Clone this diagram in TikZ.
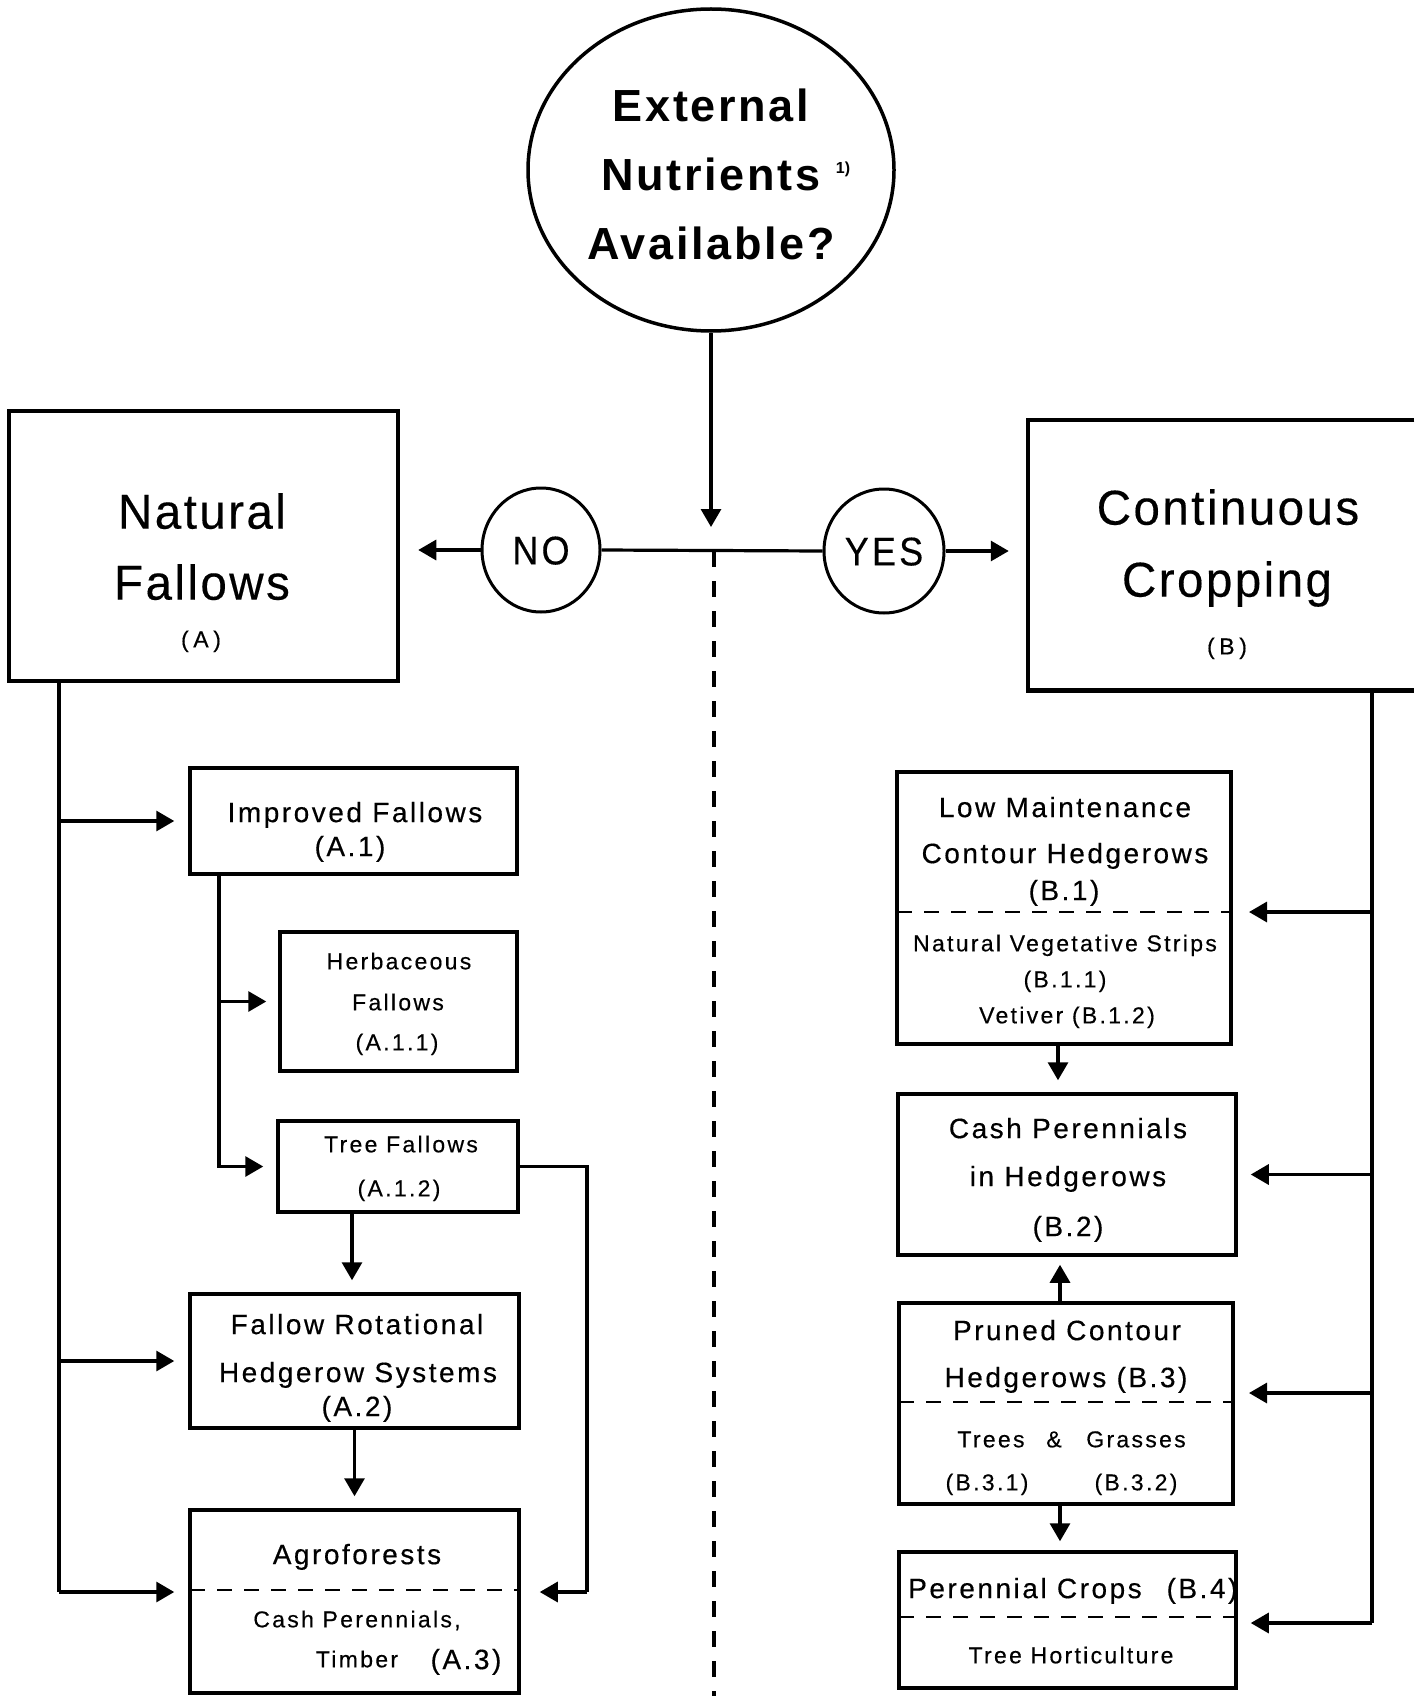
\documentclass[tikz,border=0pt]{standalone}
\usepackage{fontspec}
\setmainfont{Liberation Sans}
\usetikzlibrary{arrows.meta,shapes.geometric}
\newfontfamily\fBig[LetterSpace=5,FakeStretch=0.97,FakeBold=0.3]{Liberation Sans}
\newfontfamily\fMed[LetterSpace=9,FakeBold=0.4]{Liberation Sans}
\newfontfamily\fSml[LetterSpace=10,FakeBold=0.4]{Liberation Sans}
\newfontfamily\fPar[LetterSpace=20,FakeBold=0.4]{Liberation Sans}
\newfontfamily\fTop[LetterSpace=6]{Liberation Sans}
\newfontfamily\fYN[LetterSpace=8,FakeStretch=0.9,FakeBold=0.3]{Liberation Sans}
\begin{document}
\begin{tikzpicture}[x=1pt,y=-1pt,
  box/.style={draw, line width=3.5pt, inner sep=0pt},
  bigbox/.style={line width=4.5pt, inner sep=0pt},
  conn/.style={line width=3.2pt},
  arr/.style={conn, -{Triangle[length=18pt,width=20pt]}},
  sepline/.style={line width=2.2pt, dash pattern=on 15pt off 12pt},
  midline/.style={line width=3.5pt, dash pattern=on 16pt off 14pt},
  tbig/.style={font={\fBig\fontsize{49}{52}\selectfont}, inner sep=0pt, text height=35.3pt, text depth=0pt},
  tmed/.style={font={\fMed\fontsize{28}{31}\selectfont}, inner sep=0pt, text height=20.2pt, text depth=0pt},
  tsml/.style={font={\fSml\fontsize{23}{26}\selectfont}, inner sep=0pt, text height=16.6pt, text depth=0pt},
  tpar/.style={font={\fPar\fontsize{23}{26}\selectfont}, inner sep=0pt, text height=16.6pt, text depth=0pt},
  ttop/.style={font={\fTop\bfseries\fontsize{45}{48}\selectfont}, inner sep=0pt, text height=32.4pt, text depth=0pt},
  tyn/.style={font={\fYN\fontsize{40}{42}\selectfont}, text height=28.8pt, text depth=0pt}
]
\useasboundingbox (0,0) rectangle (1416,1696);
\fill[white] (0,0) rectangle (1416,1696);

% question ellipse
\node[ellipse, draw, line width=3.5pt, minimum width=366pt, minimum height=322pt, inner sep=0pt] (Q) at (711,170) {};
\node[ttop] (q1) at (711,105) {External};
\node[ttop] (q2) at (711,174) {Nutrients};
\node[font={\fontsize{16}{18}\selectfont\bfseries}, inner sep=0pt] (q2s) at (843,169) {1)};
\node[ttop] (q3) at (711,243) {Available?};

% decision circles
\node[ellipse, draw, line width=3pt, minimum width=118pt, minimum height=124pt, inner sep=0pt, tyn] (NO) at (541,550) {NO};
\node[ellipse, draw, line width=3pt, minimum width=120pt, minimum height=124pt, inner sep=0pt, tyn] (YES) at (884,551) {YES};

% main boxes
\node[draw, bigbox, minimum width=389pt, minimum height=270pt] (NF) at (203.5,546) {};
\node[tbig] (nf1) at (202,511) {Natural};
\node[tbig] (nf2) at (202,582) {Fallows};
\node[tpar] (nf3) at (201,639) {(A)};

\node[bigbox, minimum width=382pt, minimum height=266pt] (CC) at (1221,555) {};
\draw[line width=4.5pt] (CC.north east) -- (CC.north west) -- (CC.south west) -- (CC.south east);
\node[tbig] (cc1) at (1228,507) {Continuous};
\node[tbig] (cc2) at (1227,579) {Cropping};
\node[tpar] (cc3) at (1227,646) {(B)};

% left column boxes
\node[box, minimum width=327pt, minimum height=106pt] (IF) at (353.5,821) {};
\node[tmed] (if1) at (355,812) {Improved Fallows};
\node[tmed] (if2) at (350,846) {(A.1)};

\node[box, minimum width=237pt, minimum height=139pt] (HF) at (398.5,1001.5) {};
\node[tsml] (hf1) at (399,961) {Herbaceous};
\node[tsml] (hf2) at (398,1002) {Fallows};
\node[tsml] (hf3) at (397,1042) {(A.1.1)};

\node[box, minimum width=240pt, minimum height=91pt] (TF) at (398,1166.5) {};
\node[tsml] (tf1) at (401,1144) {Tree Fallows};
\node[tsml] (tf2) at (399,1188) {(A.1.2)};

\node[box, minimum width=329pt, minimum height=134pt] (FR) at (354.5,1361) {};
\node[tmed] (fr1) at (357,1324) {Fallow Rotational};
\node[tmed] (fr2) at (358,1372) {Hedgerow Systems};
\node[tmed] (fr3) at (357,1406) {(A.2)};

\node[box, minimum width=329pt, minimum height=183pt] (AG) at (354.5,1601.5) {};
\coordinate (agL) at (190,1590);
\coordinate (agR) at (519,1590);
\draw[sepline] (agL) -- (agR);
\node[tmed] (ag1) at (357,1554) {Agroforests};
\node[tsml] (ag2) at (357,1619) {Cash Perennials,};
\node[tsml] (ag3) at (357,1659) {Timber};
\node[tmed] (ag4) at (466,1659) {(A.3)};

% right column boxes
\node[box, minimum width=334pt, minimum height=272pt] (LM) at (1064,908) {};
\coordinate (lmL) at (897,912);
\coordinate (lmR) at (1231,912);
\draw[sepline] (lmL) -- (lmR);
\node[tmed] (lm1) at (1065,807) {Low Maintenance};
\node[tmed] (lm2) at (1065,853) {Contour Hedgerows};
\node[tmed] (lm3) at (1064,890) {(B.1)};
\node[tsml] (lm4) at (1065,943) {Natural Vegetative Strips};
\node[tsml] (lm5) at (1065,979) {(B.1.1)};
\node[tsml] (lm6) at (1067,1015) {Vetiver (B.1.2)};

\node[box, minimum width=338pt, minimum height=161pt] (CP) at (1067,1174.5) {};
\node[tmed] (cp1) at (1068,1128) {Cash Perennials};
\node[tmed] (cp2) at (1068,1176) {in Hedgerows};
\node[tmed] (cp3) at (1068,1226) {(B.2)};

\node[box, minimum width=334pt, minimum height=201pt] (PC) at (1066,1403.5) {};
\coordinate (pcL) at (899,1402);
\coordinate (pcR) at (1233,1402);
\coordinate (pcA) at (1233,1393);
\draw[sepline] (pcL) -- (pcR);
\node[tmed] (pc1) at (1067,1330) {Pruned Contour};
\node[tmed] (pc2) at (1066,1377) {Hedgerows (B.3)};
\node[tsml] (pc3) at (991,1439) {Trees};
\node[tsml] (pc4) at (1054,1439) {\&};
\node[tsml] (pc5) at (1136,1439) {Grasses};
\node[tsml] (pc6) at (987,1482) {(B.3.1)};
\node[tsml] (pc7) at (1136,1482) {(B.3.2)};

\node[box, minimum width=337pt, minimum height=136pt] (PR) at (1067.5,1620) {};
\coordinate (prL) at (899,1617);
\coordinate (prR) at (1236,1617);
\draw[sepline] (prL) -- (prR);
\node[tmed] (pr1) at (1025,1588) {Perennial Crops};
\node[tmed] (pr2) at (1202,1588) {(B.4)};
\node[tsml] (pr3) at (1071,1655) {Tree Horticulture};

% top connectors
\coordinate (jtop) at (711,527);
\draw[arr] (Q.south) -- (jtop);
\draw[conn] (NO.east) -- (YES.west);
\draw[arr, shorten >=18pt] (NO.west) -- (NO.west -| NF.east);
\draw[arr, shorten >=19pt] (YES.east) -- (YES.east -| CC.west);
\coordinate (dtop) at (714,551);
\coordinate (dbot) at (714,1696);
\draw[midline] (dtop) -- (dbot);

% left trunk
\coordinate (ltop) at (59,681);
\coordinate (lbot) at (59,1592);
\draw[conn] (ltop) -- (lbot);
\draw[arr, shorten >=14pt] (ltop |- IF.west) -- (IF.west);
\draw[arr, shorten >=14pt] (ltop |- FR.west) -- (FR.west);
\draw[arr, shorten >=14pt] (lbot) -- (lbot -| AG.west);

% improved fallows trunk
\coordinate (itop) at (219,874);
\draw[arr, shorten >=13pt] (itop) |- (TF.west);
\draw[arr, shorten >=12pt] (itop |- HF.west) -- (HF.west);

% tree fallows connectors
\coordinate (tr) at (587,1592);
\draw[conn] (TF.east) -| (tr);
\draw[arr, shorten >=19pt] (tr) -- (tr -| AG.east);
\coordinate (tfb) at (352,1212);
\draw[arr, shorten >=12pt] (tfb) -- (tfb |- FR.north);
\draw[arr, shorten >=12pt] (FR.south) -- (AG.north);

% right trunk
\coordinate (rtop) at (1372,688);
\coordinate (rbot) at (1372,1623);
\draw[conn] (rtop) -- (rbot);
\draw[arr, shorten >=18pt] (rtop |- lmR) -- (lmR);
\draw[arr, shorten >=13pt] (rtop |- CP.east) -- (CP.east);
\draw[arr, shorten >=16pt] (rtop |- pcA) -- (pcA);
\draw[arr, shorten >=13pt] (rbot) -- (rbot -| PR.east);

% right column vertical arrows
\coordinate (lmb) at (1058,1044);
\draw[arr, shorten >=12pt] (lmb) -- (lmb |- CP.north);
\coordinate (pct) at (1060,1303);
\draw[arr, shorten >=8pt] (pct) -- (pct |- CP.south);
\coordinate (pcb) at (1060,1504);
\draw[arr, shorten >=9pt] (pcb) -- (pcb |- PR.north);
\end{tikzpicture}
\end{document}
